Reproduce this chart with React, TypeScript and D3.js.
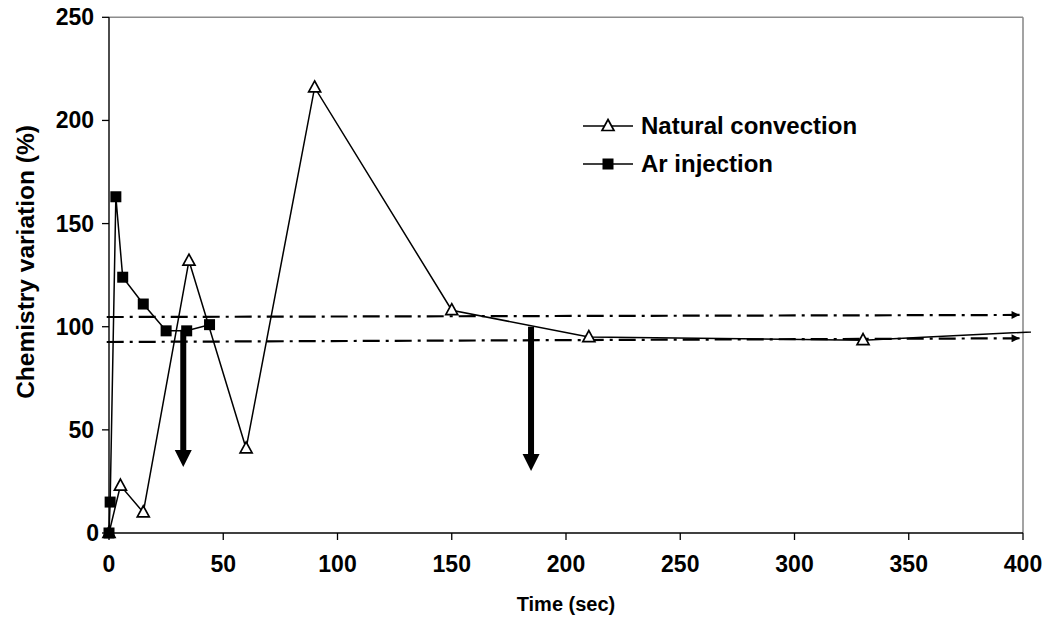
import React from "react";
import * as d3 from "d3";

// Natural convection series (time in s, chemistry variation in %)
const natTime = [0, 5, 15, 35, 60, 90, 150, 210, 330, 450];
const natValue = [0, 23, 10, 132, 41, 216, 108, 95, 93.5, 100];

// Ar injection series
const arTime = [0, 0.5, 3, 6, 15, 25, 34, 44];
const arValue = [0, 15, 163, 124, 111, 98, 98, 101];

// Dash-dot reference band (start/end values across the time range)
const bandUpper = [104.7, 105.7];
const bandLower = [92.6, 94.4];
const bandTime = [-1, 398.5];

// Down arrows: time, start value, tip value
const arrowTime = [32.5, 184.7];
const arrowFrom = [98.5, 100];
const arrowTo = [32, 30];

const xTicks = [0, 50, 100, 150, 200, 250, 300, 350, 400];
const yTicks = [0, 50, 100, 150, 200, 250];

const seriesNames = ["Natural convection", "Ar injection"];

const W = 1046;
const H = 626;
const left = 109;
const right = 1023;
const top = 17.3;
const bottom = 533;

const FONT = "'Liberation Sans', Arial, sans-serif";

export default function App() {
  const x = d3.scaleLinear().domain([0, 400]).range([left, right]);
  const y = d3.scaleLinear().domain([0, 250]).range([bottom, top]);

  const natPts: [number, number][] = natTime.map((t, i) => [t, natValue[i]]);
  const arPts: [number, number][] = arTime.map((t, i) => [t, arValue[i]]);

  const line = d3
    .line<[number, number]>()
    .x((d) => x(d[0]))
    .y((d) => y(d[1]));

  const tri = (cx: number, cy: number, key: string | number) => (
    <path
      key={key}
      d={`M${cx},${cy - 6.5} L${cx + 6},${cy + 4.5} L${cx - 6},${cy + 4.5} Z`}
      fill="#fff"
      stroke="#000"
      strokeWidth={1.7}
    />
  );
  const sq = (cx: number, cy: number, key: string | number) => (
    <rect key={key} x={cx - 5.5} y={cy - 5.5} width={11} height={11} fill="#000" />
  );

  const legendX0 = 583;
  const legendX1 = 633;
  const legendY = [126, 164];

  return (
    <svg width={W} height={H} style={{ position: "absolute", left: 0, top: 0, background: "#fff" }}>
      <defs>
        <clipPath id="plotClip">
          <rect x={left - 2} y={0} width={right - left + 10} height={bottom + 8} />
        </clipPath>
        <marker id="dashHead" viewBox="0 0 10 10" refX={10} refY={5} markerWidth={10} markerHeight={8} markerUnits="userSpaceOnUse" orient="auto">
          <path d="M0,0 L10,5 L0,10 Z" fill="#000" />
        </marker>
      </defs>

      {/* plot frame: grey top and right edges */}
      <line x1={left} x2={right} y1={top} y2={top} stroke="#8c8c8c" strokeWidth={1.6} />
      <line x1={right} x2={right} y1={top} y2={bottom} stroke="#8c8c8c" strokeWidth={1.6} />

      {/* axes */}
      <line x1={left} x2={left} y1={top} y2={bottom} stroke="#000" strokeWidth={1.4} />
      <line x1={left} x2={right} y1={bottom} y2={bottom} stroke="#000" strokeWidth={1.4} />
      {yTicks.map((v) => (
        <g key={"yt" + v}>
          <line x1={left - 7} x2={left} y1={y(v)} y2={y(v)} stroke="#000" strokeWidth={1.3} />
          <text
            x={v === 0 ? left - 10 : left - 15}
            y={y(v)}
            dy="0.35em"
            textAnchor="end"
            fontFamily={FONT}
            fontWeight="bold"
            fontSize={23}
          >
            {v}
          </text>
        </g>
      ))}
      {xTicks.map((v) => (
        <g key={"xt" + v}>
          <line x1={x(v)} x2={x(v)} y1={bottom} y2={bottom + 7} stroke="#000" strokeWidth={1.3} />
          <text
            x={x(v)}
            y={bottom + 31}
            dy="0.35em"
            textAnchor="middle"
            fontFamily={FONT}
            fontWeight="bold"
            fontSize={23}
          >
            {v}
          </text>
        </g>
      ))}

      <text x={566} y={604} dy="0.35em" textAnchor="middle" fontFamily={FONT} fontWeight="bold" fontSize={20}>
        Time (sec)
      </text>
      <text
        transform={`translate(25,262) rotate(-90)`}
        dy="0.35em"
        textAnchor="middle"
        fontFamily={FONT}
        fontWeight="bold"
        fontSize={24.5}
      >
        Chemistry variation (%)
      </text>

      {/* dash-dot reference lines */}
      {[bandUpper, bandLower].map((b, i) => (
        <line
          key={"band" + i}
          x1={x(bandTime[0])}
          y1={y(b[0])}
          x2={x(bandTime[1])}
          y2={y(b[1])}
          stroke="#000"
          strokeWidth={2.2}
          strokeDasharray="17 6 3 6"
          markerEnd="url(#dashHead)"
        />
      ))}

      {/* series lines */}
      <g clipPath="url(#plotClip)">
        <path d={line(natPts) ?? ""} fill="none" stroke="#000" strokeWidth={1.5} />
      </g>
      <path d={line(arPts) ?? ""} fill="none" stroke="#000" strokeWidth={1.5} />

      {/* markers */}
      {natPts.filter((d) => d[0] <= 400).map((d, i) => tri(x(d[0]), y(d[1]), "n" + i))}
      {arPts.map((d, i) => sq(x(d[0]), y(d[1]), "a" + i))}

      {/* thick down arrows */}
      {arrowTime.map((t, i) => {
        const ax = x(t);
        const y0 = y(arrowFrom[i]);
        const y1 = y(arrowTo[i]);
        const head = 17;
        return (
          <g key={"arr" + i}>
            <rect x={ax - 3} y={y0} width={6} height={y1 - y0 - head + 1} fill="#000" />
            <path d={`M${ax - 8.5},${y1 - head} L${ax + 8.5},${y1 - head} L${ax},${y1} Z`} fill="#000" />
          </g>
        );
      })}

      {/* legend */}
      {seriesNames.map((name, i) => (
        <g key={"lg" + i}>
          <line x1={legendX0} x2={legendX1} y1={legendY[i]} y2={legendY[i]} stroke="#000" strokeWidth={1.5} />
          {i === 0 ? tri((legendX0 + legendX1) / 2, legendY[i], "lt") : sq((legendX0 + legendX1) / 2, legendY[i], "ls")}
          <text x={641} y={legendY[i]} dy="0.35em" fontFamily={FONT} fontWeight="bold" fontSize={24}>
            {name}
          </text>
        </g>
      ))}
    </svg>
  );
}
